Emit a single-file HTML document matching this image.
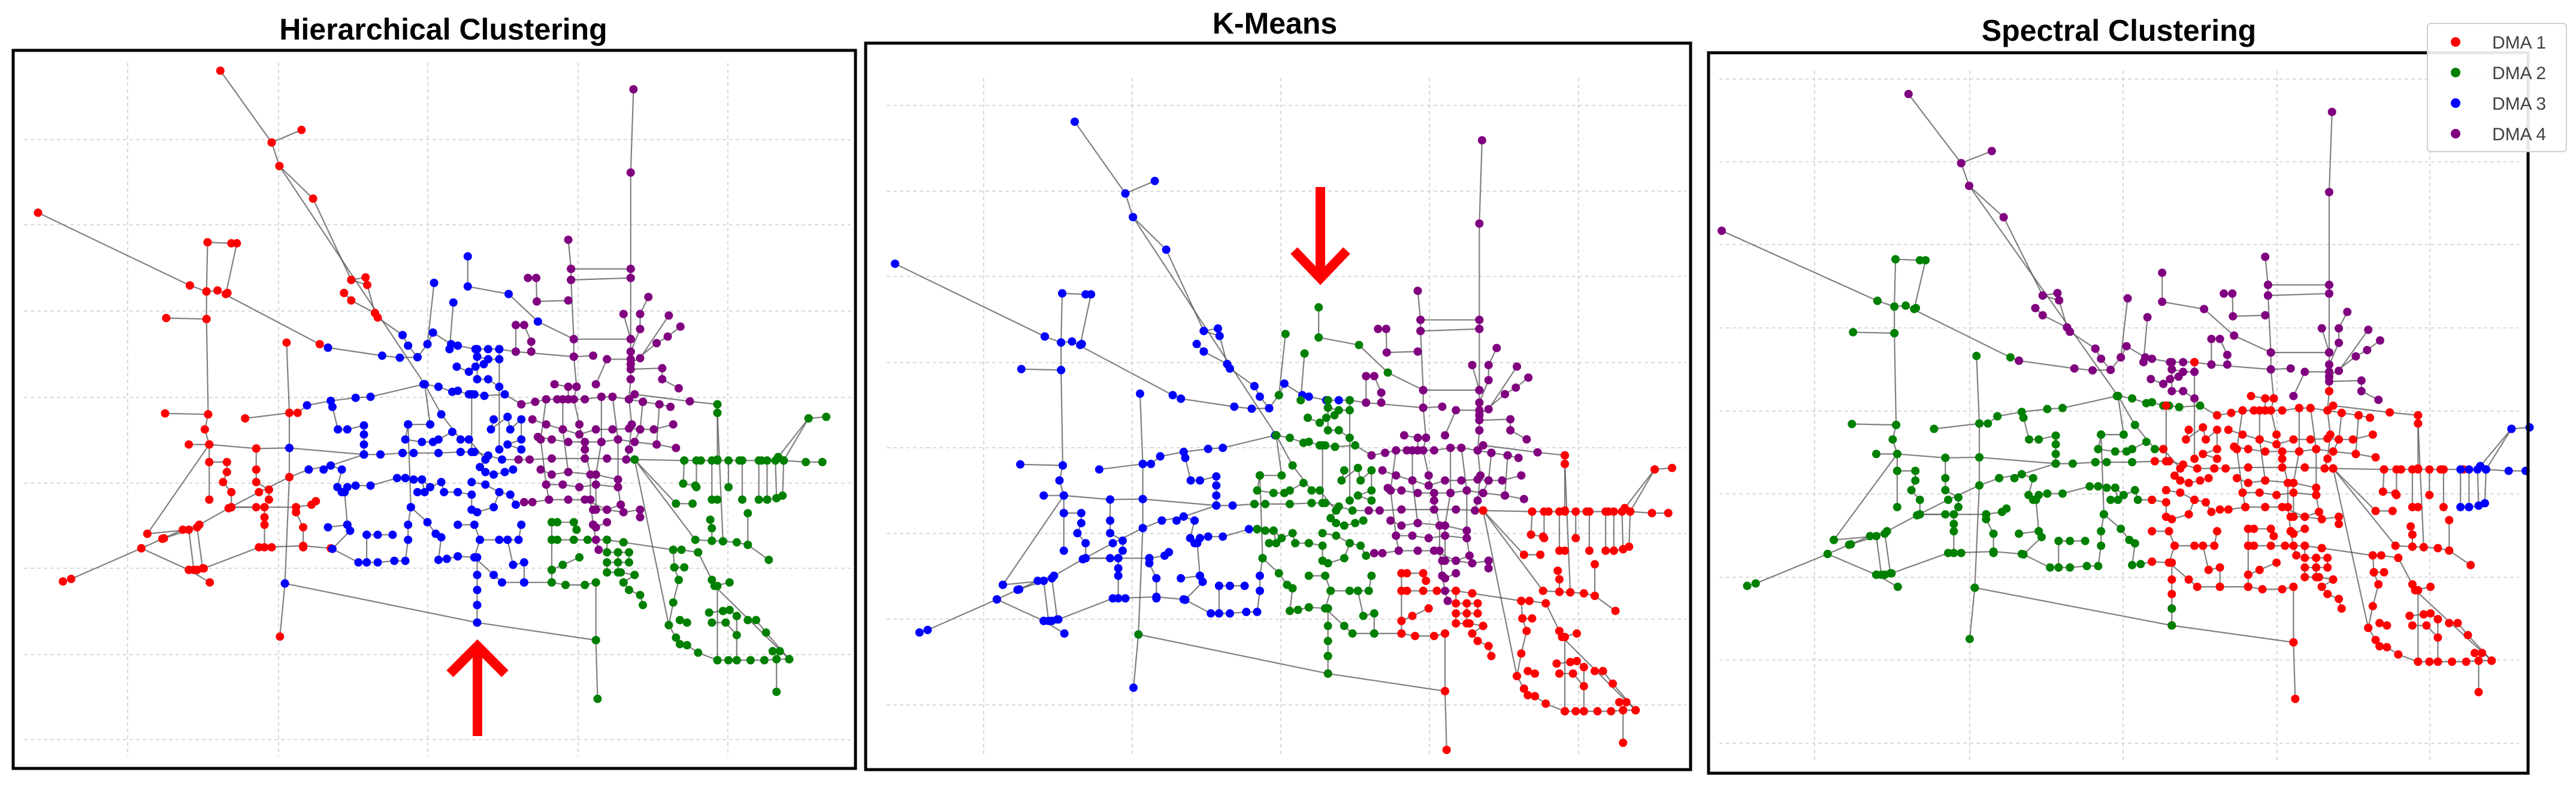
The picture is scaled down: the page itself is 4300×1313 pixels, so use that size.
<!DOCTYPE html>
<html><head><meta charset="utf-8">
<style>
html,body{margin:0;padding:0;background:#fff;}
svg{display:block;font-family:"Liberation Sans",sans-serif;}
</style></head>
<body>
<svg id="chart" width="4300" height="1313" viewBox="0 0 4300 1313" xmlns="http://www.w3.org/2000/svg">
<g id="grids"></g>
<g id="edges"></g>
<g id="nodes"></g>
<rect x="22" y="84" width="1406" height="1198" fill="none" stroke="#000" stroke-width="5"/>
<rect x="1445" y="72" width="1377" height="1212" fill="none" stroke="#000" stroke-width="5"/>
<rect x="2852" y="88" width="1368" height="1202" fill="none" stroke="#000" stroke-width="5"/>
<text x="740" y="66" font-size="50" font-weight="bold" text-anchor="middle">Hierarchical Clustering</text>
<text x="2128" y="56" font-size="50" font-weight="bold" text-anchor="middle">K-Means</text>
<text x="3537" y="68" font-size="50" font-weight="bold" text-anchor="middle">Spectral Clustering</text>
<g fill="none" stroke="#ff0000" stroke-width="16">
<line x1="797" y1="1228" x2="797" y2="1080"/>
<polyline points="751,1124 797,1078 843,1124"/>
</g>
<g fill="none" stroke="#ff0000" stroke-width="16">
<line x1="2204" y1="312" x2="2204" y2="462"/>
<polyline points="2160,418 2204,464 2248,418"/>
</g>
<g id="legend-layer">
<rect x="4052" y="39" width="232" height="214" rx="6" fill="#fff" fill-opacity="0.9" stroke="#d0d0d0" stroke-width="2"/>
<g><circle cx="4099" cy="70" r="8" fill="#ff0000"/><text x="4160" y="81" font-size="30" fill="#404040">DMA 1</text></g>
<g><circle cx="4099" cy="121" r="8" fill="#008000"/><text x="4160" y="132" font-size="30" fill="#404040">DMA 2</text></g>
<g><circle cx="4099" cy="172" r="8" fill="#0000ff"/><text x="4160" y="183" font-size="30" fill="#404040">DMA 3</text></g>
<g><circle cx="4099" cy="223" r="8" fill="#800080"/><text x="4160" y="234" font-size="30" fill="#404040">DMA 4</text></g>
</g>
</svg>
<script>
// network paths in layout units; label string = [hierarchical, kmeans, spectral] cluster codes
const pathLabels = [
"rbg","bbg","rbp","rbg","bbp","rbg","rbg","rbg","rbg","rbg","bbg","rbg","bbg",
"rbp","rbp","rbp","rbp","rbp",
"rbg","rbg","rbg","rbg","rbg","rbg","rbg","rbg","rbg","rbg","rbg","bgg","grr",
"bbg","bgg","bgr","ppr","grr","grb","bbg","bgg","bgg","bgr","bbg","bbg","bbg","bbg","bgg","bgr","bgr","bgr","bgr","bgr","bgg",
"bbp","bgp","bgp","bgp","bgg","bgp","bgp","bgp",
"bgg","bgg","bgg","bgr","bgr","bgr","bgr","bgr","bgr","bgg",
"ppp","ppr","ppp","ppr","ppp","ppp","ppp","ppp","ppp","ppp","ppp","ppp","ppp","ppp","ppp","ppp","ppr","grr",
"ppr","ppr","ppr","ppr","ppr","ppr","ppr","ppr","ppr","ppr","ppr","ppr","ppr","ppr","ppr","ppr",
"grb","grb","grr","grr","grr","grr","grr","grb","grb","grb","grr","grr","grr","grr","grr","grr","grr","grr","grr","grr","grr","grr","grr","grr","grr","grr","grr","grr","grr","grr","grr","grr","grr","grr","grr","grr","grr"
];
const pathPoints = [
[[115,1163],[130,1158],[257,1097],[295,1078],[332,1060],[362,1050],[415,1017],[470,985],[525,955],[560,940]],
[[560,940],[600,932],[660,910]],
[[70,428],[345,573]],
[[345,573],[375,585],[395,583],[580,690],[595,697]],
[[595,697],[693,713],[725,717],[757,716]],
[[377,487],[375,585],[375,640],[378,830],[372,860],[380,890],[380,925],[380,1000]],
[[377,487],[420,489],[430,489],[410,590],[413,588]],
[[302,638],[375,640]],
[[300,828],[378,830]],
[[343,890],[380,890],[465,898],[525,897]],
[[525,897],[660,910]],
[[445,838],[525,827],[540,827],[557,812]],
[[557,812],[600,803],[645,797],[672,795],[768,770]],
[[400,145],[493,288],[547,263]],
[[493,288],[507,335],[568,400],[637,562],[663,557]],
[[637,562],[666,572],[680,628],[685,637],[730,672]],
[[624,588],[637,603],[680,628]],
[[507,335],[770,770]],
[[380,925],[412,925],[412,945],[405,965],[420,985],[420,1015],[465,1015]],
[[465,898],[465,940],[465,965],[488,980],[488,1000]],
[[480,1015],[480,1035],[480,1050],[480,1095],[493,1095]],
[[537,1015],[537,1025],[550,1055],[550,1095]],
[[420,1015],[480,1015],[537,1015],[565,1010],[573,1003]],
[[268,1068],[380,890]],
[[257,1097],[343,1140],[358,1140],[370,1137],[470,1095],[550,1092],[600,1097]],
[[268,1068],[343,1060],[352,1140]],
[[343,1140],[381,1165]],
[[520,687],[525,827],[525,955],[517,1167],[508,1273]],
[[298,1077],[358,1055],[368,1137]],
[[517,1167],[865,1245]],
[[865,1245],[1080,1280]],
[[603,815],[613,860],[630,860],[660,852],[660,870],[660,890],[660,910],[690,910],[730,907]],
[[730,907],[750,907],[795,907],[835,905]],
[[835,905],[860,905],[885,912],[910,920],[940,920]],
[[940,920],[960,920],[1000,918],[1060,918],[1100,918],[1150,920]],
[[1150,920],[1240,922],[1270,922],[1300,922],[1340,922],[1380,922],[1420,922]],
[[1420,922],[1460,925],[1490,925]],
[[587,940],[600,932],[620,940],[612,975],[620,985],[630,975],[645,972],[672,972],[720,957],[735,957]],
[[735,957],[750,960],[765,960],[770,985],[757,985]],
[[765,960],[780,975],[800,965],[805,985],[830,985]],
[[830,985],[855,990],[855,1020],[865,1025],[895,1015],[905,985],[925,990],[935,1010]],
[[595,1055],[630,1050],[635,1062],[603,1098],[650,1125],[665,1125],[685,1125],[715,1122],[735,1122],[740,1080],[740,1050],[745,1015]],
[[665,1070],[685,1070],[712,1070]],
[[665,1070],[665,1125]],
[[630,1050],[625,985]],
[[745,1015],[775,1045],[790,1068],[800,1075],[795,1120],[810,1118],[830,1113]],
[[830,1113],[860,1115],[870,1080],[860,1050],[830,1050]],
[[870,1080],[905,1080],[920,1080],[940,1080],[945,1050]],
[[920,1080],[930,1130],[950,1125],[950,1165]],
[[860,1115],[895,1150],[910,1165],[950,1165],[1000,1165]],
[[865,1115],[865,1150],[865,1180],[865,1210]],
[[865,1210],[865,1245]],
[[730,672],[740,693],[757,716],[775,690],[785,667],[818,690],[830,693],[862,700],[885,700],[905,700],[935,705]],
[[865,700],[865,715],[885,720],[905,720]],
[[828,735],[850,745],[862,735],[877,730]],
[[865,715],[865,760],[885,760],[905,775]],
[[770,770],[795,775],[820,785],[830,783],[850,790],[860,790],[878,793],[915,790],[945,810]],
[[848,515],[848,575],[922,590],[975,645],[1040,680]],
[[787,568],[775,690]],
[[822,607],[815,700]],
[[740,850],[735,880],[765,885],[785,885],[795,880],[820,865]],
[[770,770],[780,850],[740,850]],
[[770,770],[800,830],[835,880],[850,880]],
[[850,880],[880,920]],
[[895,840],[890,860],[920,835],[925,860],[945,840],[945,880],[920,890],[945,900]],
[[880,920],[870,935],[880,945],[895,950],[915,945],[930,940]],
[[855,965],[880,970],[905,985]],
[[855,790],[855,905]],
[[905,700],[905,900]],
[[740,850],[745,1015]],
[[1148,182],[1143,348],[1143,540],[1143,558],[1143,680],[1143,705],[1143,730],[1143,760]],
[[1143,760],[1140,800],[1145,850],[1140,900],[1135,920]],
[[1030,482],[1035,540],[1035,562],[1040,680],[1040,715],[1045,775]],
[[1045,775],[1040,800],[1050,850],[1060,900],[1070,950],[1070,1000],[1075,1050]],
[[1035,540],[1143,540]],
[[1035,562],[1143,558]],
[[957,558],[972,558],[973,605],[1030,603]],
[[1040,680],[1143,680]],
[[935,652],[935,705],[1040,715],[1075,713]],
[[950,652],[963,685],[963,705]],
[[1175,596],[1160,630],[1160,660],[1143,705]],
[[1130,630],[1143,680]],
[[1212,633],[1160,718]],
[[1233,655],[1210,675],[1190,688],[1143,730]],
[[1143,720],[1100,720],[1080,770]],
[[1143,740],[1200,738],[1200,760],[1230,778]],
[[1150,790],[1250,804],[1300,810]],
[[1300,810],[1300,827],[1300,920]],
[[945,810],[970,805],[990,800],[1010,800],[1030,800],[1060,800],[1090,795],[1110,795],[1140,800],[1165,805],[1195,810],[1215,815]],
[[1220,850],[1185,860],[1160,860],[1140,858],[1110,860],[1080,860],[1050,870],[1020,860],[990,850],[965,840]],
[[975,875],[1000,880],[1030,885],[1060,885],[1090,885],[1120,880],[1150,885],[1190,890],[1225,897]],
[[980,940],[1000,950],[1030,945],[1080,950],[1120,960]],
[[990,970],[1020,970],[1050,975],[1080,970],[1120,975]],
[[950,1005],[965,1005],[995,1000],[1030,1000],[1060,1000],[1100,1020],[1125,1010]],
[[1075,1020],[1100,1020],[1130,1025],[1160,1020],[1160,1035]],
[[1075,1050],[1080,1055],[1100,1045]],
[[990,800],[980,880],[990,970],[995,1000]],
[[1020,800],[1020,860],[1030,945]],
[[1090,795],[1090,885],[1080,950],[1080,1020]],
[[1110,795],[1120,880],[1120,975],[1125,1010]],
[[1165,805],[1160,860],[1150,885]],
[[1195,810],[1190,890]],
[[1030,800],[1030,775],[1005,770]],
[[1075,1050],[1080,1080],[1085,1100]],
[[1420,922],[1465,838],[1497,835]],
[[1410,915],[1465,838]],
[[1240,922],[1238,968],[1260,972]],
[[1262,922],[1262,975]],
[[1290,922],[1290,1000],[1300,1000]],
[[1320,922],[1320,975]],
[[1345,922],[1345,1000]],
[[1375,922],[1375,1000],[1390,1000],[1407,997],[1418,992],[1420,922]],
[[1390,922],[1390,1000]],
[[1405,922],[1407,997]],
[[1150,920],[1225,1008],[1255,1008]],
[[1150,920],[1260,1080],[1290,1082],[1310,1083],[1335,1085],[1355,1090],[1393,1120]],
[[1287,1040],[1290,1057],[1290,1082]],
[[1355,1027],[1355,1090]],
[[1300,827],[1310,1083]],
[[1000,1045],[1010,1045],[1040,1045],[1045,1060]],
[[1000,1045],[1000,1080],[1010,1080],[1040,1080],[1065,1080],[1100,1080],[1130,1085]],
[[1000,1080],[1000,1140],[1020,1130],[1050,1115]],
[[1000,1140],[1000,1165],[1025,1170],[1060,1170],[1080,1165]],
[[1080,1165],[1080,1280],[1083,1397]],
[[1100,1080],[1100,1105],[1120,1105],[1140,1105],[1140,1125],[1120,1125],[1100,1125],[1100,1145],[1125,1145],[1150,1150]],
[[1120,1105],[1120,1145]],
[[1130,1165],[1140,1180],[1160,1190],[1165,1210]],
[[1150,1150],[1130,1165]],
[[1130,1085],[1220,1100],[1235,1100],[1265,1105]],
[[1220,1100],[1222,1135],[1240,1135]],
[[1222,1135],[1230,1160],[1220,1205],[1212,1250],[1225,1275],[1232,1288],[1245,1290],[1265,1305],[1300,1320],[1320,1320],[1335,1320],[1360,1320],[1385,1320],[1407,1318],[1430,1318]],
[[1232,1240],[1245,1245]],
[[1400,1302],[1413,1302],[1407,1318],[1407,1383]],
[[1265,1105],[1290,1160],[1295,1172],[1322,1165]],
[[1285,1225],[1310,1222],[1322,1220],[1335,1232]],
[[1290,1245],[1315,1245],[1335,1270]],
[[1355,1240],[1370,1240],[1388,1265],[1430,1318]],
[[1295,1172],[1430,1318]],
[[1150,920],[1212,1250]],
[[1335,1232],[1335,1320]],
[[1300,1172],[1300,1320]]
];
const clusterColors = {r:"#ff0000", g:"#008000", b:"#0000ff", p:"#800080"};
// per-panel grid tick positions
const gridX1 = [213,465,714,965,1215];
const gridY1 = [233,375,519,663,806,948,1092,1234];
const gridX2 = [1642,1890,2138,2386,2635];
const gridY2 = [176,319,461,605,747,890,1033,1176];
const gridX3 = [3029,3288,3544,3801,4056];
const gridY3 = [132,270,408,547,686,824,963,1101,1240];

const NS = "http://www.w3.org/2000/svg";
const axes = [
 {x: v => 22 + (v - 25) * 0.922, y: v => 82 + (v - 102) * 0.837, gx: gridX1, gy: gridY1, gxr:[40,1420], gyr:[105,1262]},
 {x: v => 1494 + (v - 70) * 0.909, y: v => 440 + (v - 428) * 0.837, gx: gridX2, gy: gridY2, gxr:[1480,2815], gyr:[130,1262]},
 {x: v => 2874 + (v - 70) * 0.945, y: v => 385 + (v - 428) * 0.806, gx: gridX3, gy: gridY3, gxr:[2870,4205], gyr:[118,1272]}
];
const gG = document.getElementById("grids");
const gE = document.getElementById("edges");
const gN = document.getElementById("nodes");
axes.forEach((ax, pi) => {
  ax.gx.forEach(x => {
    const l = document.createElementNS(NS, "line");
    
    
    l.setAttribute("x1", x); l.setAttribute("x2", x);
    l.setAttribute("y1", ax.gyr[0]); l.setAttribute("y2", ax.gyr[1]);
    l.setAttribute("stroke", "#cfcfcf"); l.setAttribute("stroke-width", "1.6"); l.setAttribute("stroke-dasharray", "6 5");
    gG.appendChild(l);
  });
  ax.gy.forEach(y => {
    const l = document.createElementNS(NS, "line");
    
    
    l.setAttribute("y1", y); l.setAttribute("y2", y);
    l.setAttribute("x1", ax.gxr[0]); l.setAttribute("x2", ax.gxr[1]);
    l.setAttribute("stroke", "#cfcfcf"); l.setAttribute("stroke-width", "1.6"); l.setAttribute("stroke-dasharray", "6 5");
    gG.appendChild(l);
  });
  pathPoints.forEach((pts) => {
    const pl = document.createElementNS(NS, "polyline");
    
    
    pl.setAttribute("points", pts.map(p => ax.x(p[0]).toFixed(1) + "," + ax.y(p[1]).toFixed(1)).join(" "));
    pl.setAttribute("fill", "none"); pl.setAttribute("stroke", "#555"); pl.setAttribute("stroke-opacity", "0.75"); pl.setAttribute("stroke-width", "2.2");
    gE.appendChild(pl);
  });
  pathPoints.forEach((pts, k) => {
    const lab = pathLabels[k] || "grr";
    const col = clusterColors[lab[pi]] || "#008000";
    pts.forEach(p => {
      const c = document.createElementNS(NS, "circle");
      
      
      c.setAttribute("cx", ax.x(p[0]).toFixed(1)); c.setAttribute("cy", ax.y(p[1]).toFixed(1));
      c.setAttribute("r", "7"); c.setAttribute("fill", col);
      gN.appendChild(c);
    });
  });
});
</script>
</body></html>
